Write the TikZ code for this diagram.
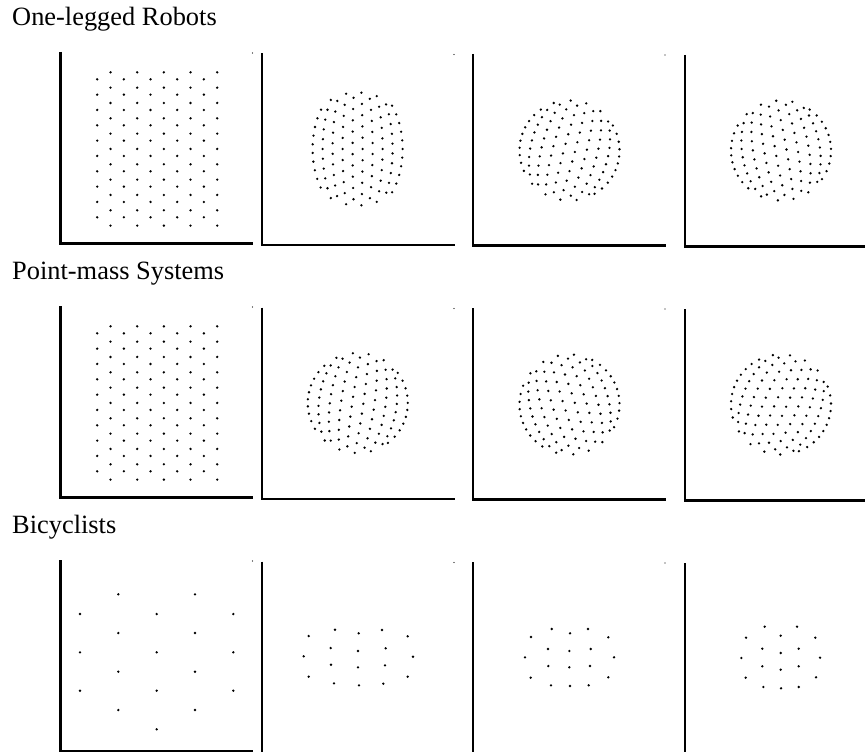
\documentclass[tikz,border=0pt]{standalone}
\usepackage{fontspec}
\setmainfont{Liberation Serif}

\tikzset{
  axisline/.style={line width=2.4pt, line join=miter},
  robot/.style={fill=black},
  heading/.style={anchor=base west, inner sep=0pt, font=\fontsize{26.4}{30}\selectfont},
}

% L-shaped axes of one panel: left, top
\newcommand{\panelaxes}[2]{%
  \draw[axisline] (#1,#2) -- (#1,#2+191.5) -- (#1+192.5,#2+191.5);
  \fill (#1+192,#2+1) circle (0.6pt);
}

% 105 robots: left, top, centre x, centre y, half width, half height, rounding, turn
\newcommand{\swarm}[8]{%
  \foreach \j in {0,...,9}{
    \pgfmathtruncatemacro{\nk}{isodd(\j) ? 10 : 9}
    \pgfmathsetmacro{\yoff}{isodd(\j) ? -76.67 : -69.67}
    \foreach \k in {0,...,\nk}{
      \pgfmathsetmacro{\cu}{(\j-4.5)/4.5}
      \pgfmathsetmacro{\cv}{(\yoff+15.33*\k)/76.67}
      \pgfmathsetmacro{\sx}{#5*\cu*(1-#7+#7*sqrt(1-\cv*\cv/2))}
      \pgfmathsetmacro{\sy}{#6*\cv*(1-#7+#7*sqrt(1-\cu*\cu/2))}
      \fill[robot] ({#1+#3+\sx*cos(#8)-\sy*sin(#8)},{#2+#4+\sx*sin(#8)+\sy*cos(#8)}) circle (1.3pt);
    }
  }
}

\begin{document}
\begin{tikzpicture}[x=1pt,y=-1pt]
  \useasboundingbox (0,0) rectangle (865,752);

  % row headings
  \node[heading] (robots) at (12,26) {One-legged Robots};
  \node[heading] (pointmass) at (12,279.5) {Point-mass Systems};
  \node[heading] (bicycles) at (12,533) {Bicyclists};

  % axes
  \foreach \rt in {52,306,560}
    \foreach \pl/\po in {60.5/0, 262/1.5, 473/2, 685/3}
      \panelaxes{\pl}{\rt+\po};

  % one-legged robots
  \swarm{60.5}{52}{96.7}{97}{60}{76.67}{0}{0}
  \swarm{262}{53.5}{95.6}{95.5}{45}{56.5}{0.8}{0}
  \swarm{473}{54}{96.5}{96.5}{50}{50}{1}{15}
  \swarm{685}{55}{96}{95.5}{50}{50}{1}{-10}

  % point-mass systems
  \swarm{60.5}{306}{96.7}{97}{60}{76.67}{0}{0}
  \swarm{262}{307.5}{95.8}{95.5}{50}{50}{1}{8}
  \swarm{473}{308}{96.5}{96.5}{50}{50}{1}{-18}
  \swarm{685}{309}{96}{95.5}{50}{50}{1}{24}

  % bicyclists
  \foreach \bx/\by in {118.3/594.3, 195/594.3, 80/614, 156.7/614, 233.3/614,
      118.3/633, 195/633, 80/652.3, 156.7/652.3, 233.3/652.3, 118.3/671.7,
      195/671.7, 80/690.7, 156.7/690.7, 233.3/690.7, 118.3/710, 195/710, 156.7/729.3}
    \fill[robot] (\bx,\by) circle (1.3pt);
  \foreach \bx/\by in {335/629.7, 358.7/633.3, 382/630, 308.7/636, 407.7/636.3,
      330.7/648, 358/651, 385.7/648.3, 303.7/656.3, 413/656.7, 331/664.7,
      358/667.3, 385/665.3, 308.7/676.7, 407.7/676.7, 334/683.3, 359/685.3, 383.3/683.7}
    \fill[robot] (\bx,\by) circle (1.3pt);
  \foreach \bx/\by in {551.7/629, 570/633.3, 588/629, 531/637, 608.3/637.3,
      548/649, 569.3/651, 590.7/649, 525/657.3, 614/657.3, 548.3/666,
      569.3/667.3, 590/666, 530.7/677.7, 608.3/677.3, 551/685.3, 570/686, 588.7/685.3}
    \fill[robot] (\bx,\by) circle (1.3pt);
  \foreach \bx/\by in {764.7/626.7, 797/626.7, 746/637.7, 780.7/635.7, 815.3/637.7,
      762.3/648.7, 780.7/653, 798.7/648.7, 741.3/658, 820/657.7, 762.3/666.3,
      780.7/669.7, 798.7/666.3, 745.7/677.7, 816/677.3, 763.3/687, 781/688.3, 798.7/687}
    \fill[robot] (\bx,\by) circle (1.3pt);
\end{tikzpicture}
\end{document}
